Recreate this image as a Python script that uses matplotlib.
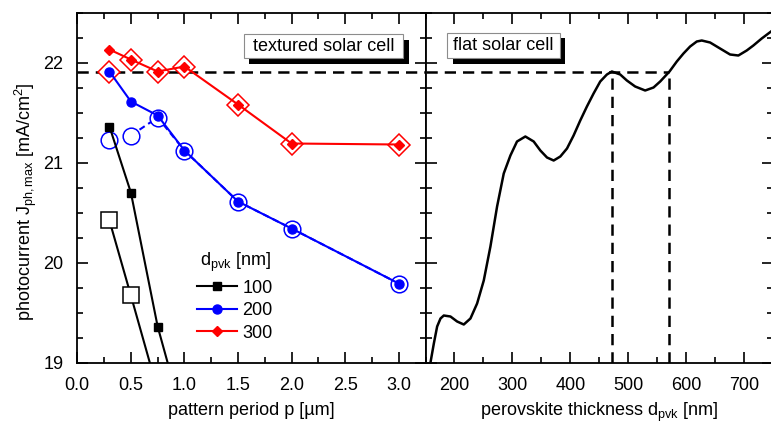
import numpy as np
import matplotlib
matplotlib.use("Agg")
import matplotlib.pyplot as plt
from matplotlib.patches import Rectangle

plt.rcParams['font.family'] = ['Liberation Sans', 'DejaVu Sans']
plt.rcParams['mathtext.fontset'] = 'custom'
plt.rcParams['mathtext.rm'] = 'Liberation Sans'
plt.rcParams['mathtext.it'] = 'Liberation Sans:italic'
plt.rcParams['mathtext.bf'] = 'Liberation Sans:bold'
plt.rcParams['font.size'] = 13


#////////////////////////// DATA ///////////////////////

# textured cell: pattern period p [um] vs max photocurrent
period = [0.3, 0.5, 0.75, 1.0, 1.5, 2.0, 3.0]
j100 = [21.36, 20.70, 19.36, 18.39]
j100_open = [20.42, 19.67, 18.72]
j200 = [21.91, 21.61, 21.47, 21.12, 20.61, 20.34, 19.79]
j200_open = [21.23, 21.27, 21.45, 21.12, 20.61, 20.34, 19.79]
j300 = [22.13, 22.03, 21.91, 21.96, 21.58, 21.19, 21.18]
j300_open = [21.91, 22.03, 21.91, 21.96, 21.58, 21.19, 21.18]
thickLabels = ['100', '200', '300']

# flat cell: photocurrent vs perovskite thickness [nm]
dFlat = [158.6, 164.4, 170.1, 175.9, 181.6, 193.1, 204.6, 216.1, 227.6, 239.1,
         250.6, 262.1, 273.6, 285.1, 296.6, 308.0, 322.4, 336.8, 348.3, 359.8,
         371.3, 382.8, 394.3, 405.7, 417.2, 428.7, 440.2, 451.7, 463.2, 471.8,
         486.2, 497.7, 512.0, 529.3, 543.7, 555.2, 571.3, 583.9, 595.4, 606.9,
         618.4, 627.0, 641.4, 658.6, 675.9, 690.2, 704.6, 716.1, 730.5, 746.6]
jFlat = [19.00, 19.19, 19.36, 19.44, 19.47, 19.46, 19.41, 19.38, 19.44, 19.59,
         19.82, 20.16, 20.56, 20.89, 21.07, 21.21, 21.26, 21.21, 21.12, 21.05,
         21.02, 21.06, 21.14, 21.27, 21.42, 21.56, 21.69, 21.81, 21.88, 21.91,
         21.88, 21.82, 21.76, 21.72, 21.75, 21.81, 21.91, 22.01, 22.09, 22.16,
         22.21, 22.22, 22.20, 22.14, 22.08, 22.07, 22.12, 22.17, 22.24, 22.31]

jFlatRef = 21.91          # best flat cell photocurrent
dRange = [472, 571]       # thickness window reaching it


#////////////////////////// FIGURE ///////////////////////

W, H = 771, 425
fig = plt.figure(figsize=(W / 100, H / 100), dpi=100)
ax1 = fig.add_axes([77.3 / W, 62.5 / H, 348.2 / W, 350 / H])
ax2 = fig.add_axes([425.5 / W, 62.5 / H, 347.5 / W, 350 / H], sharey=ax1)

dash = (4.5, 2.8)

# ---- left panel
ax1.axhline(jFlatRef, color='k', lw=1.8, dashes=dash, zorder=1)

ax1.plot(period[:3], j100_open, color='k', lw=1.5, marker='s', ms=11,
         mfc='white', mec='k', mew=1.1, zorder=2)
ax1.plot(period[1:], j200_open[1:], color='b', lw=1.5, dashes=(3, 2), zorder=2)
ax1.plot(period, j200_open, ls='none', marker='o', ms=12,
         mfc='white', mec='b', mew=1.1, zorder=2)
ax1.plot(period, j300_open, ls='none', marker='D', ms=11.5,
         mfc='white', mec='r', mew=1.1, zorder=2)

l100, = ax1.plot(period[:4], j100, color='k', lw=1.5, marker='s', ms=5.3, zorder=3)
l200, = ax1.plot(period, j200, color='b', lw=1.5, marker='o', ms=6.5, zorder=3)
l300, = ax1.plot(period, j300, color='r', lw=1.5, marker='D', ms=5.2, zorder=3)

ax1.set_xlim(0, 3.25)
ax1.set_ylim(19, 22.5)
ax1.set_xticks(np.arange(0, 3.01, 0.5))
ax1.set_xticks(np.arange(0, 3.26, 0.25), minor=True)
ax1.set_yticks([19, 20, 21, 22])
ax1.set_yticks(np.arange(19, 22.51, 0.25), minor=True)
ax1.set_xticklabels([f"{v:.1f}" for v in np.arange(0, 3.01, 0.5)])
ax1.set_xlabel(u"pattern period p [\u00b5m]", fontsize=13, labelpad=6)
ax1.set_ylabel(r"photocurrent J$_{\mathrm{ph,max}}$ [mA/cm$^{\mathrm{2}}$]",
               fontsize=13)
ax1.yaxis.set_label_coords(-0.11, 0.46)

leg = ax1.legend([l100, l200, l300], thickLabels, title=r"d$_{\mathrm{pvk}}$ [nm]",
                 loc='upper left', bbox_to_anchor=(0.345, 0.318), frameon=False,
                 fontsize=13, title_fontsize=13, handlelength=2.2,
                 handletextpad=0.3, labelspacing=0.3, borderpad=0,
                 borderaxespad=0)

# ---- right panel
ax2.plot(dFlat, jFlat, color='k', lw=1.8, solid_joinstyle='round', zorder=3)
ax2.plot([150, dRange[1]], [jFlatRef, jFlatRef], color='k', lw=1.8, dashes=dash)
for d in dRange:
    ax2.plot([d, d], [19, jFlatRef], color='k', lw=1.8, dashes=dash)

ax2.set_xlim(150, 750)
ax2.set_xticks(np.arange(200, 701, 100))
ax2.set_xticks(np.arange(150, 751, 50), minor=True)
ax2.set_xlabel(r"perovskite thickness d$_{\mathrm{pvk}}$ [nm]", fontsize=13,
               labelpad=5)
ax2.tick_params(axis='y', which='both', labelleft=False)

for ax in (ax1, ax2):
    ax.tick_params(which='both', direction='in', top=True, right=True,
                   width=1.2, labelsize=13)
    ax.tick_params(which='major', length=8)
    ax.tick_params(which='minor', length=4.5)
    ax.tick_params(axis='x', pad=10.5)
    ax.tick_params(axis='y', pad=10)
    for s in ax.spines.values():
        s.set_linewidth(1.3)


# ---- labelled boxes with drop shadow
def shadowBox(ax, x0, y0, x1, y1, text):
    dx, dy = 5.5 / 348.0, 5.5 / 350.0
    ax.add_patch(Rectangle((x0 + dx, y0 - dy), x1 - x0, y1 - y0, transform=ax.transAxes,
                           fc='k', ec='none', zorder=5))
    ax.add_patch(Rectangle((x0, y0), x1 - x0, y1 - y0, transform=ax.transAxes,
                           fc='white', ec='0.55', lw=0.8, zorder=6))
    ax.text((x0 + x1) / 2, (y0 + y1) / 2, text, transform=ax.transAxes,
            ha='center', va='center', fontsize=13, zorder=7)


shadowBox(ax1, 0.4787, 0.8691, 0.9354, 0.9377, "textured solar cell")
shadowBox(ax2, 0.0627, 0.8691, 0.387, 0.942, "flat solar cell")

fig.savefig("out.png", dpi=100)
